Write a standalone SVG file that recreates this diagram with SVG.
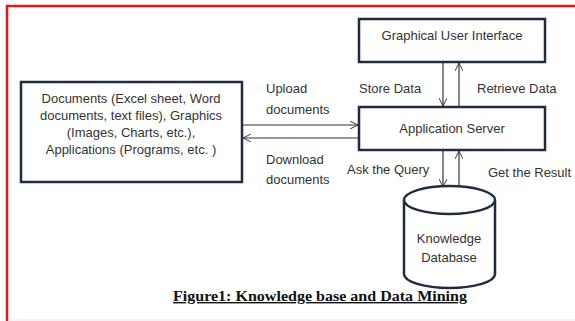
<svg xmlns="http://www.w3.org/2000/svg" width="575" height="321" viewBox="0 0 575 321">
<defs>
<marker id="arr" viewBox="0 0 10 10" refX="10" refY="5" markerWidth="8" markerHeight="8" orient="auto" markerUnits="userSpaceOnUse">
<path d="M0,0 L10,5 L0,10" fill="none" stroke="#333" stroke-width="1.2"/>
</marker>
<style>
.box{fill:#fff;stroke:#1f2d40;stroke-width:2.5}
.t{font-family:"Liberation Sans",Arial,sans-serif;font-size:13px;fill:#333}
.c{text-anchor:middle}
.ln{stroke:#333;stroke-width:1.2;fill:none}
.cap{font-family:"Liberation Serif","Times New Roman",serif;font-size:14px;font-weight:bold;fill:#111;text-decoration:underline}
</style>
</defs>
<rect x="0" y="0" width="575" height="321" fill="#fff"/>
<path d="M7,321 V6 H575" fill="none" stroke="#e8141b" stroke-width="2.5"/>
<line x1="8" y1="320" x2="575" y2="320" stroke="#fde8ea" stroke-width="1.5"/>

<g id="connectors">
<line class="ln" x1="242" y1="125" x2="358" y2="125" marker-end="url(#arr)"/>
<line class="ln" x1="359" y1="138" x2="243" y2="138" marker-end="url(#arr)"/>
<line class="ln" x1="443" y1="63" x2="443" y2="106" marker-end="url(#arr)"/>
<line class="ln" x1="459" y1="106" x2="459" y2="63" marker-end="url(#arr)"/>
<line class="ln" x1="443" y1="151" x2="443" y2="187" marker-end="url(#arr)"/>
<line class="ln" x1="459" y1="186" x2="459" y2="151" marker-end="url(#arr)"/>
<text class="t" x="266" y="93">Upload</text>
<text class="t" x="266" y="114">documents</text>
<text class="t" x="266" y="164">Download</text>
<text class="t" x="266" y="184">documents</text>
<text class="t" x="359" y="93">Store Data</text>
<text class="t" x="477" y="93">Retrieve Data</text>
<text class="t" x="347" y="174">Ask the Query</text>
<text class="t" x="488" y="177">Get the Result</text>
</g>

<g id="gui">
<rect class="box" x="359" y="19" width="186" height="43"/>
<text class="t c" x="452" y="40">Graphical User Interface</text>
</g>

<g id="appserver">
<rect class="box" x="359" y="107" width="186" height="43"/>
<text class="t c" x="452" y="133">Application  Server</text>
</g>

<g id="documents">
<rect class="box" x="21" y="82" width="221" height="100"/>
<text class="t c" x="131" y="103">Documents (Excel sheet, Word</text>
<text class="t c" x="131" y="120">documents, text files), Graphics</text>
<text class="t c" x="131" y="137">(Images, Charts, etc.),</text>
<text class="t c" x="131" y="154">Applications (Programs, etc. )</text>
</g>

<g id="database">
<path d="M404,200 V274 A45.5,14 0 0 0 495,274 V200" fill="#fff" stroke="#1f2d40" stroke-width="2.5"/>
<ellipse cx="449.5" cy="200" rx="45.5" ry="14" fill="#fff" stroke="#1f2d40" stroke-width="2.5"/>
<text class="t c" x="449" y="243">Knowledge</text>
<text class="t c" x="449" y="262">Database</text>
</g>

<text class="cap" x="173" y="301" textLength="294" lengthAdjust="spacingAndGlyphs">Figure1: Knowledge  base and Data Mining</text>
</svg>
